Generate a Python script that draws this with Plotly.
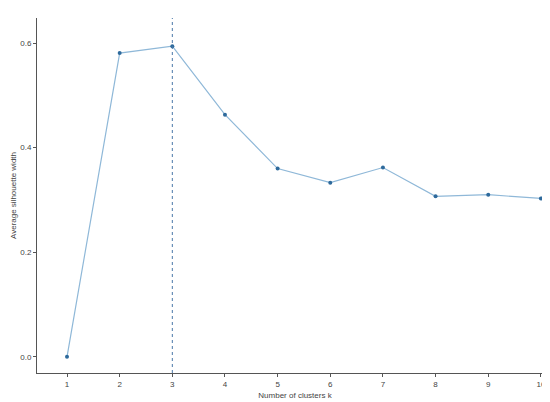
import plotly.graph_objects as go

k_values = [1, 2, 3, 4, 5, 6, 7, 8, 9, 10]
silhouette = [0.0, 0.581, 0.594, 0.463, 0.360, 0.333, 0.362, 0.307, 0.310, 0.303]
best_k = 3

fig = go.Figure()
fig.add_trace(go.Scatter(
    x=k_values, y=silhouette, mode='lines+markers',
    line=dict(color='#8fb8d8', width=1.2),
    marker=dict(color='#2e6a9c', size=4),
))
fig.add_vline(x=best_k, line=dict(color='#4a78a8', width=1, dash='dot'))

axis_common = dict(showline=True, linecolor='#555', linewidth=1, showgrid=False,
                   zeroline=False, ticks='outside', ticklen=3, tickcolor='#555',
                   tickfont=dict(size=8, color='#444'))
fig.update_layout(
    width=550, height=402, plot_bgcolor='white', paper_bgcolor='white',
    margin=dict(l=27, r=5, t=10, b=37), showlegend=False,
    font=dict(family='Liberation Sans'),
    xaxis=dict(axis_common, tickvals=k_values, range=[0.43, 10.23],
               title=dict(text='Number of clusters k', font=dict(size=8, color='#444'), standoff=4)),
    yaxis=dict(axis_common, tickvals=[0, 0.2, 0.4, 0.6], tickformat='.1f', range=[-0.031, 0.648],
               title=dict(text='Average silhouette width', font=dict(size=8, color='#444'), standoff=2)),
)
fig.write_html("out.html")
